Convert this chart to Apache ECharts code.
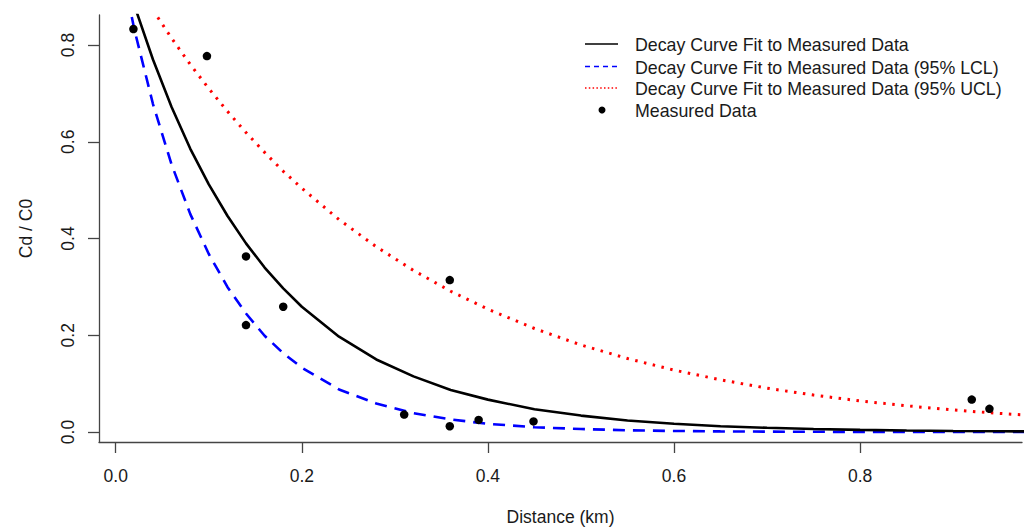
<!DOCTYPE html>
<html>
<head>
<meta charset="utf-8">
<script src="https://cdn.jsdelivr.net/npm/echarts@6/dist/echarts.min.js"></script>
<style>
html,body{margin:0;padding:0;background:#fff;}
#chart{width:1030px;height:531px;}
</style>
</head>
<body>
<div id="chart"></div>
<script>
// ---- data ----
var curveX = [0, 0.02, 0.04, 0.06, 0.08, 0.10, 0.12, 0.14, 0.16, 0.18, 0.20, 0.24, 0.28, 0.32, 0.36, 0.40, 0.45, 0.50, 0.55, 0.60, 0.65, 0.70, 0.75, 0.80, 0.85, 0.90, 0.95, 1.00];
var fitY = [1.010, 0.882, 0.770, 0.672, 0.586, 0.512, 0.447, 0.390, 0.340, 0.297, 0.259, 0.197, 0.150, 0.115, 0.087, 0.067, 0.047, 0.034, 0.024, 0.017, 0.012, 0.0087, 0.0062, 0.0044, 0.0031, 0.0022, 0.0016, 0.0011];
var lclY = [1.020, 0.832, 0.678, 0.553, 0.451, 0.368, 0.300, 0.245, 0.199, 0.163, 0.133, 0.088, 0.059, 0.039, 0.026, 0.017, 0.010, 0.0062, 0.0037, 0.0022, 0.0013, 0.0008, 0.0005, 0.0003, 0.0002, 0.0001, 0.0001, 0.0000];
var uclY = [1.000, 0.934, 0.872, 0.814, 0.760, 0.710, 0.663, 0.619, 0.578, 0.539, 0.504, 0.439, 0.383, 0.334, 0.291, 0.254, 0.214, 0.180, 0.152, 0.128, 0.108, 0.0906, 0.0764, 0.0643, 0.0542, 0.0456, 0.0384, 0.0324];
var measuredX = [0.019, 0.098, 0.140, 0.140, 0.180, 0.310, 0.359, 0.359, 0.390, 0.449, 0.920, 0.939];
var measuredY = [0.833, 0.777, 0.363, 0.221, 0.259, 0.036, 0.314, 0.012, 0.025, 0.022, 0.067, 0.048];
var xTicks = [0, 0.2, 0.4, 0.6, 0.8];
var yTicks = [0, 0.2, 0.4, 0.6, 0.8];
var seriesNames = [
  'Decay Curve Fit to Measured Data',
  'Decay Curve Fit to Measured Data (95% LCL)',
  'Decay Curve Fit to Measured Data (95% UCL)',
  'Measured Data'
];

function pairs(xs, ys) { return xs.map(function (x, i) { return [x, ys[i]]; }); }

var FONT = 'Liberation Sans, Arial, sans-serif';
var TXT = '#1a1a1a';
var AX = '#444';

var chart = echarts.init(document.getElementById('chart'), null, {renderer: 'svg'});

var legendRows = [44, 66.5, 88, 110];
var graphic = [
  {type: 'line', shape: {x1: 585, y1: legendRows[0], x2: 618, y2: legendRows[0]}, style: {stroke: '#000', lineWidth: 1.6}},
  {type: 'line', shape: {x1: 585, y1: legendRows[1], x2: 618, y2: legendRows[1]}, style: {stroke: '#0000ff', lineWidth: 1.6, lineDash: [5, 4]}},
  {type: 'line', shape: {x1: 585, y1: legendRows[2], x2: 618, y2: legendRows[2]}, style: {stroke: '#ff0000', lineWidth: 1.6, lineDash: [1.5, 2.3]}},
  {type: 'circle', shape: {cx: 602, cy: legendRows[3], r: 3.5}, style: {fill: '#000'}}
];
seriesNames.forEach(function (n, i) {
  graphic.push({type: 'text', x: 635, y: legendRows[i] + 1.2,
    style: {text: n, fontSize: 17.8, fontFamily: FONT, fill: TXT, verticalAlign: 'middle', textAlign: 'left'}});
});

var option = {
  backgroundColor: '#fff',
  animation: false,
  grid: {left: 99, right: 8, top: 15, bottom: 88.3, containLabel: false},
  xAxis: {
    type: 'value', min: -0.018, max: 0.974,
    name: 'Distance (km)', nameLocation: 'middle', nameGap: 66,
    nameTextStyle: {fontSize: 17.5, fontFamily: FONT, color: TXT},
    axisLine: {show: true, onZero: false, lineStyle: {color: AX, width: 1.3}},
    axisTick: {show: true, inside: false, length: 11, customValues: xTicks, lineStyle: {color: AX, width: 1.3}},
    axisLabel: {customValues: xTicks, margin: 25, fontSize: 17.5, fontFamily: FONT, color: TXT,
      formatter: function (v) { return v.toFixed(1); }},
    splitLine: {show: false}
  },
  yAxis: {
    type: 'value', min: -0.0206, max: 0.862,
    name: 'Cd / C0', nameLocation: 'middle', nameGap: 64, nameRotate: 90,
    nameTextStyle: {fontSize: 17.5, fontFamily: FONT, color: TXT},
    axisLine: {show: true, onZero: false, lineStyle: {color: AX, width: 1.3}},
    axisTick: {show: true, inside: false, length: 11, customValues: yTicks, lineStyle: {color: AX, width: 1.3}},
    axisLabel: {customValues: yTicks, rotate: 90, margin: 22, fontSize: 17.5, fontFamily: FONT, color: TXT,
      formatter: function (v) { return v.toFixed(1); }},
    splitLine: {show: false}
  },
  graphic: graphic,
  series: [
    {name: seriesNames[0], type: 'line', data: pairs(curveX, fitY), showSymbol: false, symbol: 'none',
      smooth: false, clip: true, lineStyle: {color: '#000', width: 2.6}, z: 3},
    {name: seriesNames[1], type: 'line', data: pairs(curveX, lclY), showSymbol: false, symbol: 'none',
      smooth: false, clip: true, lineStyle: {color: '#0000ff', width: 2.6, type: [12, 8]}, z: 2},
    {name: seriesNames[2], type: 'line', data: pairs(curveX, uclY), showSymbol: false, symbol: 'none',
      smooth: false, clip: true, lineStyle: {color: '#ff0000', width: 3, type: [2.5, 6.5]}, z: 2},
    {name: seriesNames[3], type: 'scatter', data: pairs(measuredX, measuredY), symbol: 'circle', symbolSize: 8.5,
      itemStyle: {color: '#000', opacity: 1}, z: 5}
  ]
};
chart.setOption(option);
</script>
</body>
</html>
